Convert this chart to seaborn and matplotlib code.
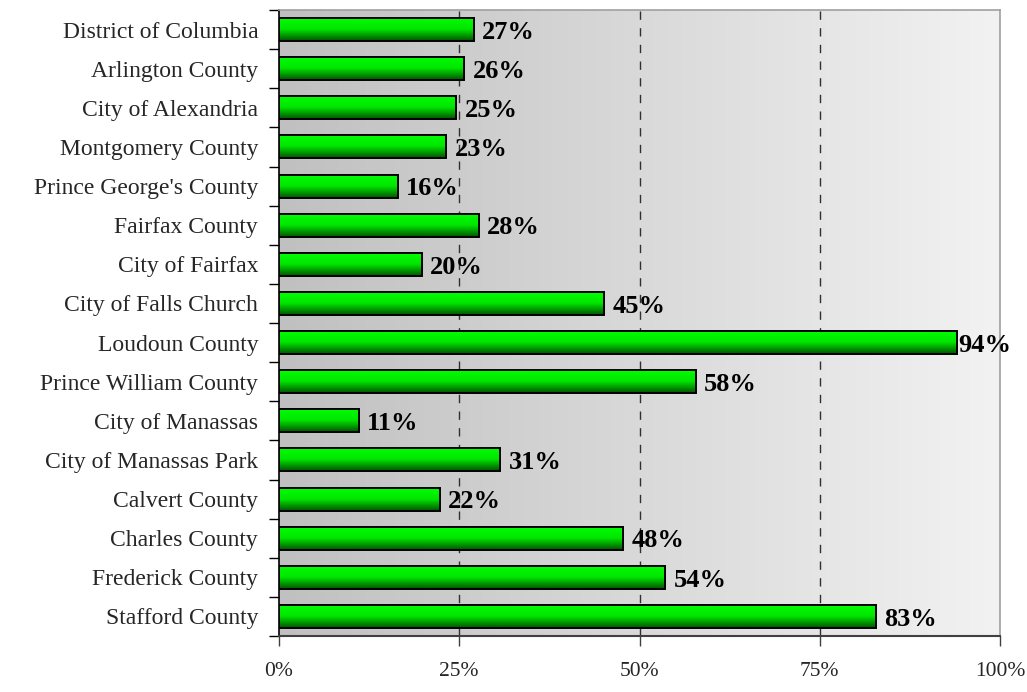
import numpy as np
import pandas as pd
import matplotlib
matplotlib.use("Agg")
import matplotlib.pyplot as plt
from matplotlib.colors import LinearSegmentedColormap
from matplotlib.ticker import FixedLocator, PercentFormatter
import seaborn as sns

# values (percent)
places = [
    "District of Columbia", "Arlington County", "City of Alexandria",
    "Montgomery County", "Prince George's County", "Fairfax County",
    "City of Fairfax", "City of Falls Church", "Loudoun County",
    "Prince William County", "City of Manassas", "City of Manassas Park",
    "Calvert County", "Charles County", "Frederick County", "Stafford County",
]
shares = [27.0, 25.7, 24.6, 23.2, 16.5, 27.7, 19.8, 45.1, 94.0,
          57.8, 11.1, 30.7, 22.3, 47.7, 53.6, 82.8]
labels = ["27%", "26%", "25%", "23%", "16%", "28%", "20%", "45%", "94%",
          "58%", "11%", "31%", "22%", "48%", "54%", "83%"]

df = pd.DataFrame({"place": places, "share": shares})

sns.set_style("white")
plt.rcParams["font.family"] = ["Liberation Serif", "DejaVu Serif"]

fig = plt.figure(figsize=(10.27, 6.92), dpi=100)
ax = fig.add_axes([279 / 1027, 1 - 636 / 692, 721 / 1027, 626 / 692])

sns.barplot(data=df, x="share", y="place", orient="h", width=0.59,
            color="#00cc00", edgecolor="black", linewidth=1.4, ax=ax, zorder=3)

ax.set_xlim(0, 100)
ax.set_ylim(len(places) - 0.5, -0.5)

# grey background, darker on the left
bg = np.linspace(0, 1, 256).reshape(1, -1)
bg_cmap = LinearSegmentedColormap.from_list("bg", ["#c0c0c0", "#f2f2f2"])
ax.imshow(bg, cmap=bg_cmap, extent=(0, 1, 0, 1), transform=ax.transAxes,
          aspect="auto", zorder=0)

# bars: bright green on top fading to dark green
bar_cmap = LinearSegmentedColormap.from_list("bar", ["#00ff00", "#00e600", "#005400"])
grad = np.linspace(0, 1, 64).reshape(-1, 1)
for p in ax.patches:
    x0, y0 = p.get_x(), p.get_y()
    w, h = p.get_width(), p.get_height()
    p.set_facecolor("none")
    im = ax.imshow(grad, cmap=bar_cmap, extent=(x0, x0 + w, y0 + h, y0),
                   origin="upper", aspect="auto", zorder=2.5)
    im.set_clip_path(p)

ax.set_xlim(0, 100)
ax.set_ylim(len(places) - 0.5, -0.5)

for x in [25, 50, 75]:
    ax.axvline(x, color="#303030", lw=1.0, ls=(0, (6, 6)), zorder=1)

for i, (v, t) in enumerate(zip(shares, labels)):
    off = 1 if v > 90 else 6  # label squeezed against the frame
    ax.annotate(t, (v, i), xytext=(off, -2), textcoords="offset points",
                ha="left", va="center", fontsize=19, fontweight="bold",
                color="black", zorder=5, annotation_clip=False)

ax.set_xlabel("")
ax.set_ylabel("")
ax.xaxis.set_major_locator(FixedLocator([0, 25, 50, 75, 100]))
ax.xaxis.set_major_formatter(PercentFormatter(decimals=0))
ax.tick_params(axis="x", direction="out", length=7, width=1, color="#404040",
               pad=12, labelsize=15.5, bottom=True)
ax.tick_params(axis="y", which="major", length=0, pad=15, labelsize=17)
ax.yaxis.set_minor_locator(FixedLocator(np.arange(-0.5, len(places), 1)))
ax.tick_params(axis="y", which="minor", direction="out", length=7, width=1,
               color="black", left=True)

for side in ["top", "right"]:
    ax.spines[side].set_color("#a0a0a0")
    ax.spines[side].set_linewidth(1.2)
ax.spines["left"].set_color("black")
ax.spines["bottom"].set_color("#404040")
ax.spines["left"].set_linewidth(1.2)
ax.spines["bottom"].set_linewidth(1.5)

fig.savefig("out.png", dpi=100)
